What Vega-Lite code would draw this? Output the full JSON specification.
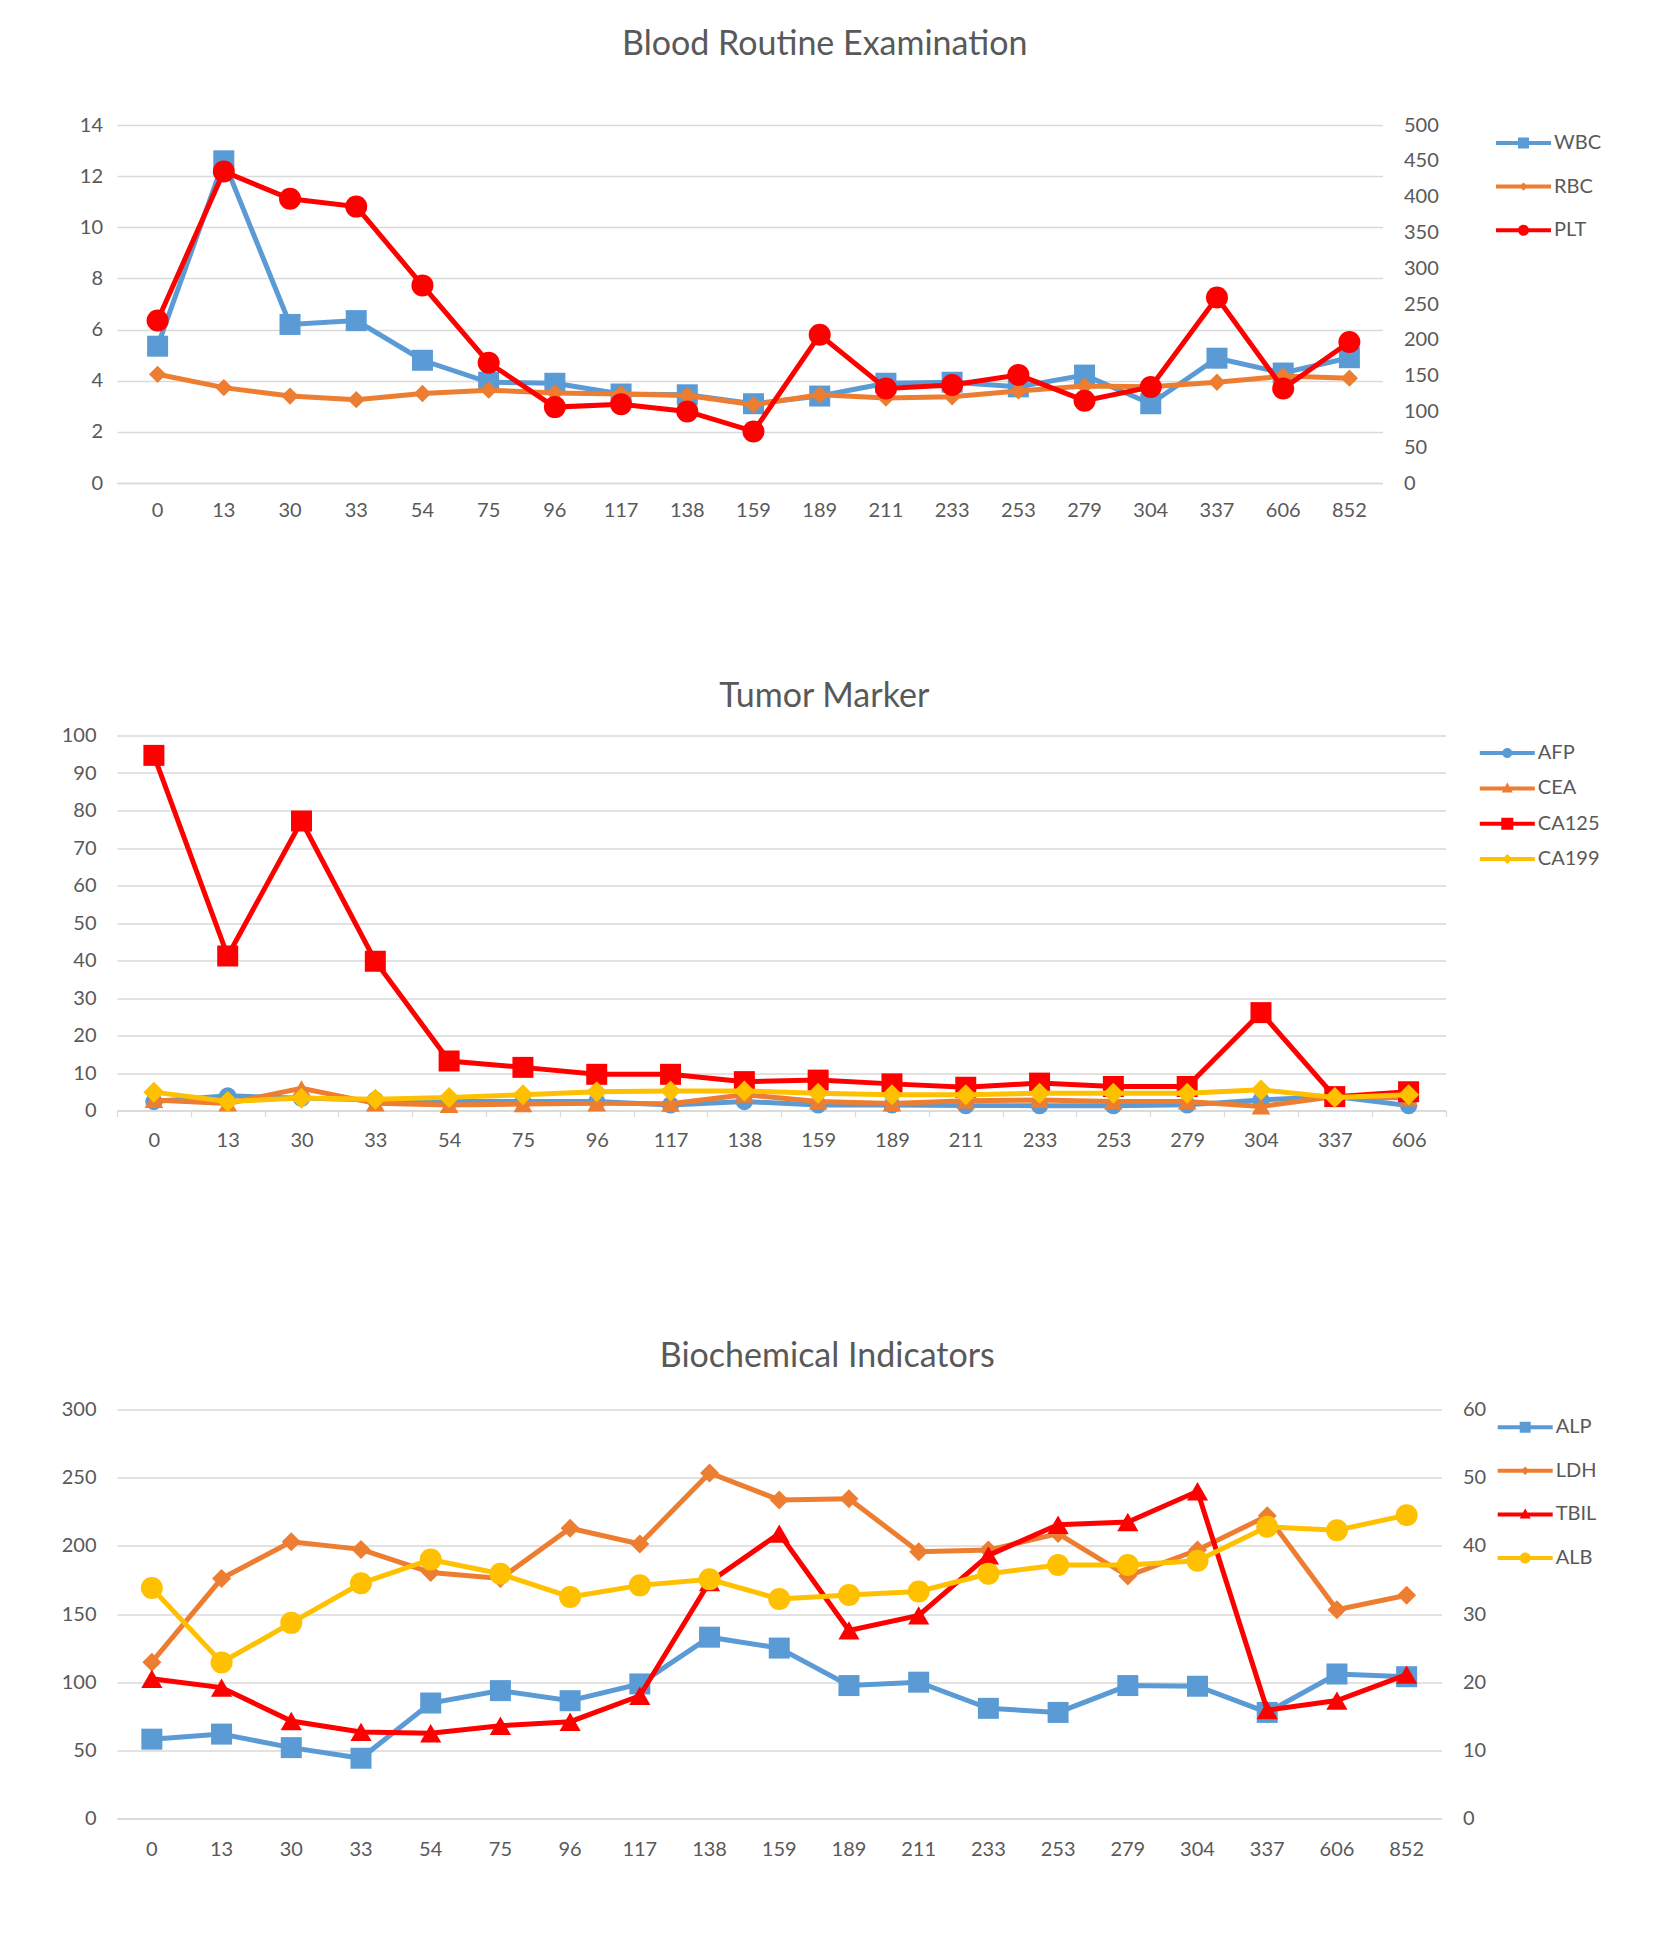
{
  "$schema": "https://vega.github.io/schema/vega-lite/v6.json",
  "description": "Blood routine, tumor markers and biochemical indicators by day",
  "background": "white",
  "padding": {"left": 50, "top": 27, "right": 5, "bottom": 5},
  "config": {
    "font": "Lato",
    "view": {"stroke": null},
    "title": {"font": "Lato", "fontSize": 34, "fontWeight": "normal", "color": "#595959", "anchor": "middle", "frame": "group", "baseline": "middle"},
    "axis": {"labelFont": "Lato", "labelFontSize": 20, "labelColor": "#595959", "domain": false, "ticks": false, "title": null, "gridColor": "#D9D9D9", "gridWidth": 1.3}
  },
  "spacing": 158.5,
  "resolve": {"scale": {"color": "independent", "shape": "independent"}, "legend": {"color": "independent", "shape": "independent"}},
  "vconcat": [
    {
      "width": 1265.5,
      "height": 358,
      "title": {"text": "Blood Routine Examination", "dx": 75, "offset": 53.5},
      "data": {"values": [
        {"d": "0", "s": "WBC", "v": 5.35}, {"d": "13", "s": "WBC", "v": 12.6}, {"d": "30", "s": "WBC", "v": 6.2}, {"d": "33", "s": "WBC", "v": 6.35},
        {"d": "54", "s": "WBC", "v": 4.8}, {"d": "75", "s": "WBC", "v": 3.94}, {"d": "96", "s": "WBC", "v": 3.9}, {"d": "117", "s": "WBC", "v": 3.48},
        {"d": "138", "s": "WBC", "v": 3.45}, {"d": "159", "s": "WBC", "v": 3.1}, {"d": "189", "s": "WBC", "v": 3.4}, {"d": "211", "s": "WBC", "v": 3.9},
        {"d": "233", "s": "WBC", "v": 3.94}, {"d": "253", "s": "WBC", "v": 3.76}, {"d": "279", "s": "WBC", "v": 4.22}, {"d": "304", "s": "WBC", "v": 3.1},
        {"d": "337", "s": "WBC", "v": 4.88}, {"d": "606", "s": "WBC", "v": 4.3}, {"d": "852", "s": "WBC", "v": 4.9},
        {"d": "0", "s": "RBC", "v": 4.25}, {"d": "13", "s": "RBC", "v": 3.73}, {"d": "30", "s": "RBC", "v": 3.4}, {"d": "33", "s": "RBC", "v": 3.26},
        {"d": "54", "s": "RBC", "v": 3.5}, {"d": "75", "s": "RBC", "v": 3.63}, {"d": "96", "s": "RBC", "v": 3.52}, {"d": "117", "s": "RBC", "v": 3.48},
        {"d": "138", "s": "RBC", "v": 3.42}, {"d": "159", "s": "RBC", "v": 3.06}, {"d": "189", "s": "RBC", "v": 3.45}, {"d": "211", "s": "RBC", "v": 3.32},
        {"d": "233", "s": "RBC", "v": 3.37}, {"d": "253", "s": "RBC", "v": 3.6}, {"d": "279", "s": "RBC", "v": 3.79}, {"d": "304", "s": "RBC", "v": 3.76},
        {"d": "337", "s": "RBC", "v": 3.94}, {"d": "606", "s": "RBC", "v": 4.18}, {"d": "852", "s": "RBC", "v": 4.1},
        {"d": "0", "s": "PLT", "v": 227}, {"d": "13", "s": "PLT", "v": 435}, {"d": "30", "s": "PLT", "v": 397}, {"d": "33", "s": "PLT", "v": 386},
        {"d": "54", "s": "PLT", "v": 276}, {"d": "75", "s": "PLT", "v": 168}, {"d": "96", "s": "PLT", "v": 106}, {"d": "117", "s": "PLT", "v": 110},
        {"d": "138", "s": "PLT", "v": 100}, {"d": "159", "s": "PLT", "v": 72}, {"d": "189", "s": "PLT", "v": 207}, {"d": "211", "s": "PLT", "v": 132},
        {"d": "233", "s": "PLT", "v": 137}, {"d": "253", "s": "PLT", "v": 151}, {"d": "279", "s": "PLT", "v": 115}, {"d": "304", "s": "PLT", "v": 134},
        {"d": "337", "s": "PLT", "v": 259}, {"d": "606", "s": "PLT", "v": 132}, {"d": "852", "s": "PLT", "v": 197}
      ]},
      "encoding": {
        "x": {
          "field": "d", "type": "ordinal", "bandPosition": 0.5,
          "scale": {"type": "band", "domain": ["0", "13", "30", "33", "54", "75", "96", "117", "138", "159", "189", "211", "233", "253", "279", "304", "337", "606", "852"], "paddingInner": 0, "paddingOuter": 0.0566, "align": 1},
          "axis": {"labelAngle": 0, "labelPadding": 17.5, "domain": true, "domainColor": "#D9D9D9", "domainWidth": 1.3, "grid": false}
        }
      },
      "layer": [
        {
          "encoding": {
            "y": {"field": "v", "type": "quantitative", "scale": {"domain": [0, 14], "nice": false},
              "axis": {"orient": "left", "values": [0, 2, 4, 6, 8, 10, 12, 14], "grid": true, "labelPadding": 14.5, "minExtent": 66.5, "maxExtent": 66.5}}
          },
          "layer": [
            {"transform": [{"filter": "datum.s === 'WBC'"}], "layer": [
              {"mark": {"type": "line", "color": "#5B9BD5", "strokeWidth": 5}},
              {"mark": {"type": "point", "filled": true, "opacity": 1, "color": "#5B9BD5", "shape": "square", "size": 441}}
            ]},
            {"transform": [{"filter": "datum.s === 'RBC'"}], "layer": [
              {"mark": {"type": "line", "color": "#ED7D31", "strokeWidth": 5}},
              {"mark": {"type": "point", "filled": true, "opacity": 1, "color": "#ED7D31", "shape": "diamond", "size": 300}}
            ]}
          ]
        },
        {
          "transform": [{"filter": "datum.s === 'PLT'"}],
          "encoding": {
            "y": {"field": "v", "type": "quantitative", "scale": {"domain": [0, 500], "nice": false},
              "axis": {"orient": "right", "values": [0, 50, 100, 150, 200, 250, 300, 350, 400, 450, 500], "grid": false, "labelPadding": 21}}
          },
          "layer": [
            {"mark": {"type": "line", "color": "#FF0000", "strokeWidth": 5}},
            {"mark": {"type": "point", "filled": true, "opacity": 1, "color": "#FF0000", "shape": "circle", "size": 484}}
          ]
        },
        {
          "mark": {"type": "point", "filled": true, "opacity": 0},
          "encoding": {
            "y": {"field": "v", "type": "quantitative", "axis": null},
            "color": {"field": "s", "type": "nominal", "scale": {"domain": ["WBC", "RBC", "PLT"], "range": ["#5B9BD5", "#ED7D31", "#FF0000"]},
              "legend": {"title": null, "orient": "none", "legendX": 1379, "legendY": 8, "padding": 0, "symbolSize": 400, "symbolOffset": 17.5, "labelOffset": 20.5, "rowPadding": 23.6, "symbolStrokeWidth": 0, "symbolOpacity": 1, "labelFont": "Lato", "labelFontSize": 20, "labelColor": "#595959"}},
            "shape": {"field": "s", "type": "nominal",
              "scale": {"domain": ["WBC", "RBC", "PLT"], "range": [
                "M-2.75,-0.2H-0.55V-0.55H0.55V-0.2H2.75V0.2H0.55V0.55H-0.55V0.2H-2.75Z",
                "M-2.75,-0.2H-0.22L0,-0.42L0.22,-0.2H2.75V0.2H0.22L0,0.42L-0.22,0.2H-2.75Z",
                "M-2.75,-0.2H2.75V0.2H-2.75Z M0.55,0A0.55,0.55,0,1,1,-0.55,0A0.55,0.55,0,1,1,0.55,0Z"
              ]},
              "legend": {"title": null, "orient": "none", "legendX": 1379, "legendY": 8, "padding": 0, "symbolSize": 400, "symbolOffset": 17.5, "labelOffset": 20.5, "rowPadding": 23.6, "symbolStrokeWidth": 0, "symbolOpacity": 1, "labelFont": "Lato", "labelFontSize": 20, "labelColor": "#595959"}}
          }
        }
      ],
      "resolve": {"scale": {"y": "independent"}}
    },
    {
      "spacing": 189,
      "resolve": {"scale": {"color": "independent", "shape": "independent"}, "legend": {"color": "independent", "shape": "independent"}},
      "vconcat": [
        {
          "width": 1328.5,
          "height": 375,
          "title": {"text": "Tumor Marker", "dx": 43, "offset": 11.2},
          "data": {"values": [
            {"d": "0", "s": "AFP", "v": 2.4}, {"d": "13", "s": "AFP", "v": 3.9}, {"d": "30", "s": "AFP", "v": 3.3}, {"d": "33", "s": "AFP", "v": 2.8},
            {"d": "54", "s": "AFP", "v": 2.4}, {"d": "75", "s": "AFP", "v": 2.4}, {"d": "96", "s": "AFP", "v": 2.4}, {"d": "117", "s": "AFP", "v": 1.5},
            {"d": "138", "s": "AFP", "v": 2.4}, {"d": "159", "s": "AFP", "v": 1.5}, {"d": "189", "s": "AFP", "v": 1.5}, {"d": "211", "s": "AFP", "v": 1.3},
            {"d": "233", "s": "AFP", "v": 1.3}, {"d": "253", "s": "AFP", "v": 1.3}, {"d": "279", "s": "AFP", "v": 1.5}, {"d": "304", "s": "AFP", "v": 2.8},
            {"d": "337", "s": "AFP", "v": 3.7}, {"d": "606", "s": "AFP", "v": 1.3},
            {"d": "0", "s": "CEA", "v": 2.8}, {"d": "13", "s": "CEA", "v": 1.9}, {"d": "30", "s": "CEA", "v": 5.9}, {"d": "33", "s": "CEA", "v": 1.9},
            {"d": "54", "s": "CEA", "v": 1.5}, {"d": "75", "s": "CEA", "v": 1.7}, {"d": "96", "s": "CEA", "v": 1.9}, {"d": "117", "s": "CEA", "v": 1.8},
            {"d": "138", "s": "CEA", "v": 4.2}, {"d": "159", "s": "CEA", "v": 2.4}, {"d": "189", "s": "CEA", "v": 1.9}, {"d": "211", "s": "CEA", "v": 2.6},
            {"d": "233", "s": "CEA", "v": 2.8}, {"d": "253", "s": "CEA", "v": 2.4}, {"d": "279", "s": "CEA", "v": 2.4}, {"d": "304", "s": "CEA", "v": 1.1},
            {"d": "337", "s": "CEA", "v": 3.7}, {"d": "606", "s": "CEA", "v": 3.3},
            {"d": "0", "s": "CA125", "v": 94.7}, {"d": "13", "s": "CA125", "v": 41.2}, {"d": "30", "s": "CA125", "v": 77.2}, {"d": "33", "s": "CA125", "v": 39.8},
            {"d": "54", "s": "CA125", "v": 13.2}, {"d": "75", "s": "CA125", "v": 11.5}, {"d": "96", "s": "CA125", "v": 9.65}, {"d": "117", "s": "CA125", "v": 9.65},
            {"d": "138", "s": "CA125", "v": 7.7}, {"d": "159", "s": "CA125", "v": 8.1}, {"d": "189", "s": "CA125", "v": 7.1}, {"d": "211", "s": "CA125", "v": 6.2},
            {"d": "233", "s": "CA125", "v": 7.3}, {"d": "253", "s": "CA125", "v": 6.4}, {"d": "279", "s": "CA125", "v": 6.4}, {"d": "304", "s": "CA125", "v": 26.1},
            {"d": "337", "s": "CA125", "v": 3.7}, {"d": "606", "s": "CA125", "v": 5.0},
            {"d": "0", "s": "CA199", "v": 4.9}, {"d": "13", "s": "CA199", "v": 2.4}, {"d": "30", "s": "CA199", "v": 3.3}, {"d": "33", "s": "CA199", "v": 3.0},
            {"d": "54", "s": "CA199", "v": 3.5}, {"d": "75", "s": "CA199", "v": 4.2}, {"d": "96", "s": "CA199", "v": 5.0}, {"d": "117", "s": "CA199", "v": 5.2},
            {"d": "138", "s": "CA199", "v": 5.2}, {"d": "159", "s": "CA199", "v": 4.6}, {"d": "189", "s": "CA199", "v": 4.2}, {"d": "211", "s": "CA199", "v": 4.2},
            {"d": "233", "s": "CA199", "v": 4.6}, {"d": "253", "s": "CA199", "v": 4.6}, {"d": "279", "s": "CA199", "v": 4.6}, {"d": "304", "s": "CA199", "v": 5.5},
            {"d": "337", "s": "CA199", "v": 3.5}, {"d": "606", "s": "CA199", "v": 4.2}
          ]},
          "encoding": {
            "x": {
              "field": "d", "type": "ordinal", "bandPosition": 0.5,
              "scale": {"type": "band", "domain": ["0", "13", "30", "33", "54", "75", "96", "117", "138", "159", "189", "211", "233", "253", "279", "304", "337", "606"], "paddingInner": 0, "paddingOuter": 0},
              "axis": {"labelAngle": 0, "labelPadding": 14, "domain": true, "domainColor": "#D9D9D9", "domainWidth": 1.3, "grid": false, "ticks": true, "tickBand": "extent", "tickColor": "#D9D9D9", "tickWidth": 1.3, "tickSize": 6}
            }
          },
          "layer": [
            {
              "encoding": {
                "y": {"field": "v", "type": "quantitative", "scale": {"domain": [0, 100], "nice": false},
                  "axis": {"orient": "left", "values": [0, 10, 20, 30, 40, 50, 60, 70, 80, 90, 100], "grid": true, "labelPadding": 21, "minExtent": 66.5, "maxExtent": 66.5}}
              },
              "layer": [
                {"transform": [{"filter": "datum.s === 'AFP'"}], "layer": [
                  {"mark": {"type": "line", "color": "#5B9BD5", "strokeWidth": 5}},
                  {"mark": {"type": "point", "filled": true, "opacity": 1, "color": "#5B9BD5", "shape": "circle", "size": 300}}
                ]},
                {"transform": [{"filter": "datum.s === 'CEA'"}], "layer": [
                  {"mark": {"type": "line", "color": "#ED7D31", "strokeWidth": 5}},
                  {"mark": {"type": "point", "filled": true, "opacity": 1, "color": "#ED7D31", "shape": "triangle-up", "size": 350}}
                ]},
                {"transform": [{"filter": "datum.s === 'CA125'"}], "layer": [
                  {"mark": {"type": "line", "color": "#FF0000", "strokeWidth": 5}},
                  {"mark": {"type": "point", "filled": true, "opacity": 1, "color": "#FF0000", "shape": "square", "size": 441}}
                ]},
                {"transform": [{"filter": "datum.s === 'CA199'"}], "layer": [
                  {"mark": {"type": "line", "color": "#FFC000", "strokeWidth": 5}},
                  {"mark": {"type": "point", "filled": true, "opacity": 1, "color": "#FFC000", "shape": "diamond", "size": 441}}
                ]}
              ]
            },
            {
              "mark": {"type": "point", "filled": true, "opacity": 0},
              "encoding": {
                "y": {"field": "v", "type": "quantitative", "axis": null},
                "color": {"field": "s", "type": "nominal", "scale": {"domain": ["AFP", "CEA", "CA125", "CA199"], "range": ["#5B9BD5", "#ED7D31", "#FF0000", "#FFC000"]},
                  "legend": {"title": null, "orient": "none", "legendX": 1362.8, "legendY": 7.6, "padding": 0, "symbolSize": 400, "symbolOffset": 17.5, "labelOffset": 20.5, "rowPadding": 15.3, "symbolStrokeWidth": 0, "symbolOpacity": 1, "labelFont": "Lato", "labelFontSize": 20, "labelColor": "#595959"}},
                "shape": {"field": "s", "type": "nominal",
                  "scale": {"domain": ["AFP", "CEA", "CA125", "CA199"], "range": [
                    "M-2.75,-0.2H2.75V0.2H-2.75Z M0.5,0A0.5,0.5,0,1,1,-0.5,0A0.5,0.5,0,1,1,0.5,0Z",
                    "M-2.75,-0.2H2.75V0.2H-2.75Z M0,-0.6L0.55,0.4H-0.55Z",
                    "M-2.75,-0.2H-0.6V-0.6H0.6V-0.2H2.75V0.2H0.6V0.6H-0.6V0.2H-2.75Z",
                    "M-2.75,-0.2H-0.3L0,-0.5L0.3,-0.2H2.75V0.2H0.3L0,0.5L-0.3,0.2H-2.75Z"
                  ]},
                  "legend": {"title": null, "orient": "none", "legendX": 1362.8, "legendY": 7.6, "padding": 0, "symbolSize": 400, "symbolOffset": 17.5, "labelOffset": 20.5, "rowPadding": 15.3, "symbolStrokeWidth": 0, "symbolOpacity": 1, "labelFont": "Lato", "labelFontSize": 20, "labelColor": "#595959"}}
              }
            }
          ],
          "resolve": {"scale": {"y": "independent"}}
        },
        {
          "width": 1324.5,
          "height": 409,
          "title": {"text": "Biochemical Indicators", "dx": 48, "offset": 25.5},
          "data": {"values": [
            {"d": "0", "s": "ALP", "v": 58.2}, {"d": "13", "s": "ALP", "v": 61.9}, {"d": "30", "s": "ALP", "v": 52}, {"d": "33", "s": "ALP", "v": 44.2},
            {"d": "54", "s": "ALP", "v": 84.7}, {"d": "75", "s": "ALP", "v": 93.8}, {"d": "96", "s": "ALP", "v": 86.4}, {"d": "117", "s": "ALP", "v": 98.7},
            {"d": "138", "s": "ALP", "v": 133}, {"d": "159", "s": "ALP", "v": 125}, {"d": "189", "s": "ALP", "v": 97.5}, {"d": "211", "s": "ALP", "v": 100},
            {"d": "233", "s": "ALP", "v": 80.8}, {"d": "253", "s": "ALP", "v": 77.8}, {"d": "279", "s": "ALP", "v": 97.5}, {"d": "304", "s": "ALP", "v": 97},
            {"d": "337", "s": "ALP", "v": 77.8}, {"d": "606", "s": "ALP", "v": 106}, {"d": "852", "s": "ALP", "v": 104},
            {"d": "0", "s": "LDH", "v": 114.7}, {"d": "13", "s": "LDH", "v": 176}, {"d": "30", "s": "LDH", "v": 203}, {"d": "33", "s": "LDH", "v": 197.4},
            {"d": "54", "s": "LDH", "v": 180.5}, {"d": "75", "s": "LDH", "v": 176}, {"d": "96", "s": "LDH", "v": 212.9}, {"d": "117", "s": "LDH", "v": 201.3},
            {"d": "138", "s": "LDH", "v": 253.4}, {"d": "159", "s": "LDH", "v": 233.7}, {"d": "189", "s": "LDH", "v": 234.5}, {"d": "211", "s": "LDH", "v": 195.7},
            {"d": "233", "s": "LDH", "v": 196.9}, {"d": "253", "s": "LDH", "v": 209}, {"d": "279", "s": "LDH", "v": 177.8}, {"d": "304", "s": "LDH", "v": 196.9},
            {"d": "337", "s": "LDH", "v": 222}, {"d": "606", "s": "LDH", "v": 153.2}, {"d": "852", "s": "LDH", "v": 163.8},
            {"d": "0", "s": "TBIL", "v": 20.5}, {"d": "13", "s": "TBIL", "v": 19.2}, {"d": "30", "s": "TBIL", "v": 14.3}, {"d": "33", "s": "TBIL", "v": 12.7},
            {"d": "54", "s": "TBIL", "v": 12.5}, {"d": "75", "s": "TBIL", "v": 13.6}, {"d": "96", "s": "TBIL", "v": 14.2}, {"d": "117", "s": "TBIL", "v": 18.0},
            {"d": "138", "s": "TBIL", "v": 34.7}, {"d": "159", "s": "TBIL", "v": 41.8}, {"d": "189", "s": "TBIL", "v": 27.6}, {"d": "211", "s": "TBIL", "v": 29.8},
            {"d": "233", "s": "TBIL", "v": 38.6}, {"d": "253", "s": "TBIL", "v": 43.1}, {"d": "279", "s": "TBIL", "v": 43.5}, {"d": "304", "s": "TBIL", "v": 48},
            {"d": "337", "s": "TBIL", "v": 15.9}, {"d": "606", "s": "TBIL", "v": 17.3}, {"d": "852", "s": "TBIL", "v": 21.1},
            {"d": "0", "s": "ALB", "v": 33.8}, {"d": "13", "s": "ALB", "v": 22.9}, {"d": "30", "s": "ALB", "v": 28.7}, {"d": "33", "s": "ALB", "v": 34.5},
            {"d": "54", "s": "ALB", "v": 38}, {"d": "75", "s": "ALB", "v": 35.9}, {"d": "96", "s": "ALB", "v": 32.5}, {"d": "117", "s": "ALB", "v": 34.2},
            {"d": "138", "s": "ALB", "v": 35.1}, {"d": "159", "s": "ALB", "v": 32.2}, {"d": "189", "s": "ALB", "v": 32.8}, {"d": "211", "s": "ALB", "v": 33.3},
            {"d": "233", "s": "ALB", "v": 35.9}, {"d": "253", "s": "ALB", "v": 37.2}, {"d": "279", "s": "ALB", "v": 37.2}, {"d": "304", "s": "ALB", "v": 37.8},
            {"d": "337", "s": "ALB", "v": 42.8}, {"d": "606", "s": "ALB", "v": 42.3}, {"d": "852", "s": "ALB", "v": 44.5}
          ]},
          "encoding": {
            "x": {
              "field": "d", "type": "ordinal", "bandPosition": 0.5,
              "scale": {"type": "band", "domain": ["0", "13", "30", "33", "54", "75", "96", "117", "138", "159", "189", "211", "233", "253", "279", "304", "337", "606", "852"], "paddingInner": 0, "paddingOuter": 0},
              "axis": {"labelAngle": 0, "labelPadding": 21, "domain": true, "domainColor": "#D9D9D9", "domainWidth": 1.3, "grid": false}
            }
          },
          "layer": [
            {
              "encoding": {
                "y": {"field": "v", "type": "quantitative", "scale": {"domain": [0, 300], "nice": false},
                  "axis": {"orient": "left", "values": [0, 50, 100, 150, 200, 250, 300], "grid": true, "labelPadding": 21, "minExtent": 66.5, "maxExtent": 66.5}}
              },
              "layer": [
                {"transform": [{"filter": "datum.s === 'ALP'"}], "layer": [
                  {"mark": {"type": "line", "color": "#5B9BD5", "strokeWidth": 5}},
                  {"mark": {"type": "point", "filled": true, "opacity": 1, "color": "#5B9BD5", "shape": "square", "size": 441}}
                ]},
                {"transform": [{"filter": "datum.s === 'LDH'"}], "layer": [
                  {"mark": {"type": "line", "color": "#ED7D31", "strokeWidth": 5}},
                  {"mark": {"type": "point", "filled": true, "opacity": 1, "color": "#ED7D31", "shape": "diamond", "size": 361}}
                ]}
              ]
            },
            {
              "encoding": {
                "y": {"field": "v", "type": "quantitative", "scale": {"domain": [0, 60], "nice": false},
                  "axis": {"orient": "right", "values": [0, 10, 20, 30, 40, 50, 60], "grid": false, "labelPadding": 21}}
              },
              "layer": [
                {"transform": [{"filter": "datum.s === 'TBIL'"}], "layer": [
                  {"mark": {"type": "line", "color": "#FF0000", "strokeWidth": 5}},
                  {"mark": {"type": "point", "filled": true, "opacity": 1, "color": "#FF0000", "shape": "triangle-up", "size": 450}}
                ]},
                {"transform": [{"filter": "datum.s === 'ALB'"}], "layer": [
                  {"mark": {"type": "line", "color": "#FFC000", "strokeWidth": 5}},
                  {"mark": {"type": "point", "filled": true, "opacity": 1, "color": "#FFC000", "shape": "circle", "size": 484}}
                ]}
              ]
            },
            {
              "mark": {"type": "point", "filled": true, "opacity": 0},
              "encoding": {
                "y": {"field": "v", "type": "quantitative", "axis": null},
                "color": {"field": "s", "type": "nominal", "scale": {"domain": ["ALP", "LDH", "TBIL", "ALB"], "range": ["#5B9BD5", "#ED7D31", "#FF0000", "#FFC000"]},
                  "legend": {"title": null, "orient": "none", "legendX": 1380.7, "legendY": 7.7, "padding": 0, "symbolSize": 400, "symbolOffset": 17.5, "labelOffset": 20.5, "rowPadding": 23.6, "symbolStrokeWidth": 0, "symbolOpacity": 1, "labelFont": "Lato", "labelFontSize": 20, "labelColor": "#595959"}},
                "shape": {"field": "s", "type": "nominal",
                  "scale": {"domain": ["ALP", "LDH", "TBIL", "ALB"], "range": [
                    "M-2.75,-0.2H-0.55V-0.55H0.55V-0.2H2.75V0.2H0.55V0.55H-0.55V0.2H-2.75Z",
                    "M-2.75,-0.2H-0.22L0,-0.42L0.22,-0.2H2.75V0.2H0.22L0,0.42L-0.22,0.2H-2.75Z",
                    "M-2.75,-0.2H2.75V0.2H-2.75Z M0,-0.6L0.55,0.4H-0.55Z",
                    "M-2.75,-0.2H2.75V0.2H-2.75Z M0.55,0A0.55,0.55,0,1,1,-0.55,0A0.55,0.55,0,1,1,0.55,0Z"
                  ]},
                  "legend": {"title": null, "orient": "none", "legendX": 1380.7, "legendY": 7.7, "padding": 0, "symbolSize": 400, "symbolOffset": 17.5, "labelOffset": 20.5, "rowPadding": 23.6, "symbolStrokeWidth": 0, "symbolOpacity": 1, "labelFont": "Lato", "labelFontSize": 20, "labelColor": "#595959"}}
              }
            }
          ],
          "resolve": {"scale": {"y": "independent"}}
        }
      ]
    }
  ]
}
